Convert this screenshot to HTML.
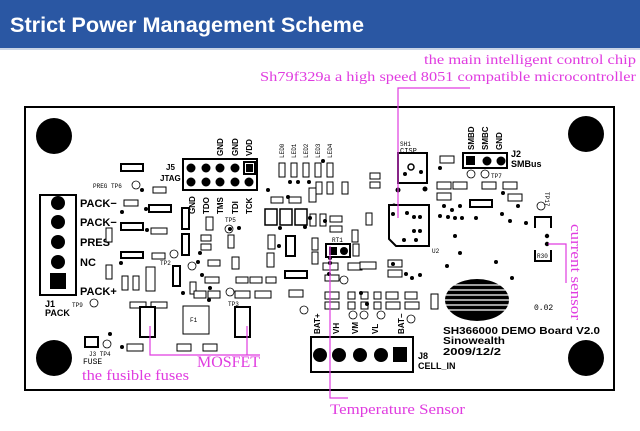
<!DOCTYPE html>
<html><head><meta charset="utf-8"><style>
html,body{margin:0;padding:0;background:#fff;}
svg{display:block;}
.c{fill:#fff;stroke:#000;stroke-width:1;}
.t{font-family:"Liberation Mono",monospace;font-size:6px;fill:#000;}
.b{font-family:"Liberation Sans",sans-serif;font-weight:bold;fill:#000;}
.m{font-family:"Liberation Serif",serif;fill:#e03ce0;}
.ml{stroke:#e03ce0;stroke-width:1.2;fill:none;}
</style></head><body>
<svg width="640" height="431" viewBox="0 0 640 431" xmlns="http://www.w3.org/2000/svg">
<rect x="0" y="0" width="640" height="48" fill="#2a57a3"/>
<rect x="0" y="48" width="640" height="2" fill="#c9d4e6"/>
<text x="10" y="32" font-family="Liberation Sans,sans-serif" font-weight="bold" font-size="21" fill="#fff" textLength="354" lengthAdjust="spacingAndGlyphs">Strict Power Management Scheme</text>

<text class="m" x="424" y="64" font-size="14" textLength="212" lengthAdjust="spacingAndGlyphs">the main intelligent control chip</text>
<text class="m" x="260" y="81" font-size="14" textLength="376" lengthAdjust="spacingAndGlyphs">Sh79f329a a high speed 8051 compatible microcontroller</text>

<!-- board -->
<rect x="25" y="107" width="589" height="283" fill="#fff" stroke="#000" stroke-width="2"/>
<circle cx="54" cy="136" r="18"/><circle cx="54" cy="358" r="18"/>
<circle cx="586" cy="134" r="18"/><circle cx="586" cy="358" r="18"/>

<!-- J1 -->
<rect x="40" y="195" width="36" height="100" fill="#fff" stroke="#000" stroke-width="2"/>
<circle cx="58" cy="203" r="7"/><circle cx="58" cy="222" r="7"/><circle cx="58" cy="242" r="7"/><circle cx="58" cy="262" r="7"/>
<rect x="50" y="273" width="16" height="16"/>
<g class="b" font-size="11">
<text x="80" y="207">PACK−</text><text x="80" y="226">PACK−</text><text x="80" y="246">PRES</text><text x="80" y="266">NC</text><text x="80" y="295">PACK+</text>
<text x="45" y="307" font-size="9">J1</text><text x="45" y="316" font-size="9">PACK</text>
</g>

<!-- J5 -->
<rect x="183" y="159" width="74" height="31" fill="#fff" stroke="#000" stroke-width="2"/>
<g><circle cx="191" cy="168" r="4.5"/><circle cx="206" cy="168" r="4.5"/><circle cx="220" cy="168" r="4.5"/><circle cx="235" cy="168" r="4.5"/>
<rect x="244" y="162" width="11" height="12" fill="#fff" stroke="#000" stroke-width="2"/><rect x="246" y="164" width="7" height="8"/>
<circle cx="191" cy="182" r="4.5"/><circle cx="206" cy="182" r="4.5"/><circle cx="220" cy="182" r="4.5"/><circle cx="235" cy="182" r="4.5"/><circle cx="249" cy="182" r="4.5"/></g>
<g class="b" font-size="8">
<text x="166" y="170">J5</text><text x="160" y="181">JTAG</text>
<text transform="translate(223,156) rotate(-90)">GND</text><text transform="translate(238,156) rotate(-90)">GND</text><text transform="translate(252,156) rotate(-90)">VDD</text>
<text transform="translate(195,214) rotate(-90)">GND</text><text transform="translate(209,214) rotate(-90)">TDO</text><text transform="translate(223,214) rotate(-90)">TMS</text><text transform="translate(238,214) rotate(-90)">TDI</text><text transform="translate(252,214) rotate(-90)">TCK</text>
</g>

<!-- LEDs -->
<g class="c"><rect x="279" y="163" width="6" height="14"/><rect x="291" y="163" width="6" height="14"/><rect x="303" y="163" width="6" height="14"/><rect x="315" y="163" width="6" height="14"/><rect x="327" y="163" width="6" height="14"/></g>
<g class="t" font-size="5"><text transform="translate(284,158) rotate(-90)">LED0</text><text transform="translate(296,158) rotate(-90)">LED1</text><text transform="translate(308,158) rotate(-90)">LED2</text><text transform="translate(320,158) rotate(-90)">LED3</text><text transform="translate(332,158) rotate(-90)">LED4</text></g>

<!-- big pads -->
<g fill="#fff" stroke="#000" stroke-width="1.5"><rect x="265" y="209" width="12" height="16"/><rect x="280" y="209" width="12" height="16"/><rect x="295" y="209" width="12" height="16"/></g>

<!-- small components -->
<g class="c">
<rect x="121" y="164" width="22" height="7" stroke-width="2"/><rect x="153" y="187" width="13" height="6"/><rect x="124" y="200" width="14" height="6"/>
<rect x="149" y="205" width="22" height="7" stroke-width="2"/><rect x="121" y="223" width="22" height="7" stroke-width="2"/><rect x="151" y="228" width="16" height="6"/>
<rect x="121" y="252" width="22" height="6" stroke-width="2"/><rect x="152" y="253" width="13" height="6"/>
<rect x="182" y="208" width="7" height="21" stroke-width="2"/><rect x="182" y="234" width="7" height="21" stroke-width="2"/><rect x="173" y="266" width="7" height="20" stroke-width="2"/>
<rect x="106" y="228" width="6" height="14"/><rect x="106" y="265" width="6" height="14"/><rect x="122" y="276" width="6" height="14"/><rect x="133" y="276" width="6" height="14"/><rect x="146" y="267" width="9" height="24"/>
<rect x="201" y="235" width="10" height="6"/><rect x="201" y="244" width="10" height="6"/><rect x="228" y="235" width="6" height="13"/><rect x="208" y="260" width="12" height="6"/>
<rect x="205" y="277" width="14" height="6"/><rect x="190" y="282" width="6" height="12"/><rect x="194" y="291" width="12" height="7"/><rect x="208" y="291" width="12" height="7"/>
<rect x="236" y="277" width="12" height="6"/><rect x="250" y="277" width="12" height="6"/><rect x="266" y="277" width="10" height="6"/>
<rect x="235" y="291" width="15" height="7"/><rect x="255" y="291" width="16" height="7"/><rect x="232" y="257" width="7" height="12"/>
<rect x="206" y="217" width="7" height="13"/><rect x="268" y="235" width="7" height="14"/><rect x="267" y="253" width="7" height="14"/>
<rect x="271" y="197" width="12" height="6"/><rect x="289" y="197" width="12" height="6"/><rect x="309" y="188" width="7" height="14"/>
<rect x="316" y="182" width="6" height="12"/><rect x="327" y="182" width="6" height="12"/><rect x="342" y="182" width="6" height="12"/>
<rect x="286" y="236" width="9" height="20" stroke-width="2"/><rect x="285" y="271" width="22" height="7" stroke-width="2"/><rect x="289" y="290" width="14" height="7"/>
<rect x="310" y="214" width="6" height="12"/><rect x="320" y="214" width="6" height="12"/><rect x="330" y="216" width="12" height="6"/><rect x="330" y="226" width="12" height="6"/>
<rect x="312" y="238" width="6" height="12"/><rect x="312" y="252" width="6" height="12"/>
<rect x="323" y="263" width="15" height="7"/><rect x="325" y="275" width="14" height="6"/><rect x="348" y="263" width="14" height="7"/>
<rect x="352" y="230" width="6" height="12"/><rect x="353" y="244" width="6" height="12"/><rect x="366" y="213" width="6" height="12"/>
<rect x="370" y="173" width="10" height="6"/><rect x="370" y="182" width="10" height="6"/><rect x="388" y="260" width="14" height="7"/><rect x="388" y="270" width="14" height="7"/>
<rect x="130" y="302" width="16" height="6"/><rect x="151" y="302" width="16" height="6"/>
<rect x="127" y="344" width="16" height="7"/><rect x="177" y="344" width="14" height="7"/><rect x="203" y="344" width="14" height="7"/>
<rect x="85" y="337" width="13" height="10" stroke-width="2"/>
</g>
<g class="c">
<rect x="325" y="292" width="14" height="7"/><rect x="325" y="302" width="14" height="7"/>
<rect x="348" y="292" width="7" height="7"/><rect x="348" y="302" width="7" height="7"/><rect x="361" y="292" width="7" height="7"/><rect x="361" y="302" width="7" height="7"/>
<rect x="374" y="292" width="7" height="7"/><rect x="374" y="302" width="7" height="7"/>
<rect x="386" y="292" width="12" height="7"/><rect x="386" y="302" width="14" height="7"/><rect x="405" y="292" width="12" height="7"/><rect x="405" y="302" width="14" height="7"/>
<rect x="431" y="294" width="7" height="15"/>
<rect x="360" y="262" width="16" height="7"/>
</g>
<!-- Q1 F1 Q3 -->
<rect x="140" y="307" width="15" height="30" fill="#fff" stroke="#000" stroke-width="2"/>
<rect x="183" y="306" width="26" height="28" class="c"/>
<rect x="235" y="307" width="15" height="30" fill="#fff" stroke="#000" stroke-width="2"/>
<text class="t" x="190" y="322" font-size="8">F1</text>

<!-- test points -->
<g fill="#fff" stroke="#000" stroke-width="0.8">
<circle cx="136" cy="185" r="4"/><circle cx="94" cy="303" r="4"/><circle cx="107" cy="344" r="4"/><circle cx="174" cy="254" r="4"/><circle cx="192" cy="266" r="4"/><circle cx="230" cy="292" r="4"/><circle cx="229" cy="229" r="4"/>
<circle cx="304" cy="310" r="4"/><circle cx="353" cy="315" r="4"/><circle cx="364" cy="315" r="4"/><circle cx="381" cy="315" r="4"/><circle cx="411" cy="319" r="4"/><circle cx="344" cy="280" r="4"/>
<circle cx="471" cy="174" r="4"/><circle cx="485" cy="174" r="4"/><circle cx="541" cy="206" r="4"/>
</g>
<g class="t" font-size="6"><text x="93" y="188">PREG TP6</text><text x="72" y="307">TP9</text><text x="89" y="356">J3  TP4</text><text x="83" y="364" font-size="8">FUSE</text>
<text x="228" y="306">TP3</text><text x="225" y="222">TP5</text><text x="160" y="265">TP2</text><text x="473" y="163">TP8</text><text x="491" y="178">TP7</text>
<text x="400" y="146">SH1</text><text x="400" y="153" font-size="7">CISP</text><text x="432" y="253">U2</text><text x="534" y="310" font-size="8">0.02</text></g>

<!-- vias -->
<g fill="#000">
<circle cx="142" cy="190" r="2"/><circle cx="146" cy="209" r="2"/><circle cx="122" cy="212" r="2"/><circle cx="147" cy="230" r="2"/><circle cx="121" cy="263" r="2"/><circle cx="230" cy="229" r="2"/>
<circle cx="200" cy="253" r="2"/><circle cx="198" cy="262" r="2"/><circle cx="202" cy="275" r="2"/><circle cx="183" cy="293" r="2"/><circle cx="209" cy="300" r="2"/><circle cx="210" cy="288" r="2"/>
<circle cx="110" cy="334" r="2"/><circle cx="122" cy="347" r="2"/><circle cx="268" cy="190" r="2"/><circle cx="239" cy="228" r="2"/><circle cx="280" cy="228" r="2"/><circle cx="279" cy="246" r="2"/>
<circle cx="290" cy="182" r="2"/><circle cx="298" cy="182" r="2"/><circle cx="309" cy="182" r="2"/><circle cx="305" cy="227" r="2"/><circle cx="310" cy="218" r="2"/><circle cx="288" cy="197" r="2"/>
<circle cx="328" cy="247" r="2"/><circle cx="323" cy="161" r="2"/><circle cx="330" cy="258" r="2"/><circle cx="330" cy="263" r="2"/>
<circle cx="329" cy="274" r="2"/><circle cx="325" cy="221" r="2"/><circle cx="361" cy="293" r="2"/><circle cx="367" cy="304" r="2"/><circle cx="393" cy="264" r="2"/><circle cx="406" cy="274" r="2"/><circle cx="412" cy="278" r="2"/><circle cx="420" cy="275" r="2"/>
<circle cx="398" cy="190" r="2.5"/><circle cx="394" cy="206" r="2.5"/><circle cx="425" cy="189" r="2.5"/><circle cx="440" cy="198" r="2.5"/><circle cx="444" cy="206" r="2"/><circle cx="452" cy="210" r="2"/><circle cx="460" cy="206" r="2"/>
<circle cx="440" cy="216" r="2"/><circle cx="448" cy="217" r="2"/><circle cx="455" cy="218" r="2"/><circle cx="462" cy="218" r="2"/><circle cx="455" cy="236" r="2"/>
<circle cx="503" cy="193" r="2"/><circle cx="518" cy="206" r="2"/><circle cx="502" cy="214" r="2"/><circle cx="510" cy="221" r="2"/><circle cx="526" cy="223" r="2"/><circle cx="460" cy="253" r="2"/>
<circle cx="447" cy="266" r="2"/><circle cx="496" cy="262" r="2"/><circle cx="512" cy="278" r="2"/><circle cx="476" cy="218" r="2"/><circle cx="440" cy="168" r="2"/><circle cx="395" cy="237" r="2"/><circle cx="407" cy="233" r="2"/><circle cx="420" cy="235" r="2"/>
<circle cx="547" cy="236" r="2.2"/><circle cx="547" cy="244" r="2.2"/>
</g>

<!-- RT1 -->
<rect x="326" y="244" width="24" height="13" fill="#fff" stroke="#000" stroke-width="2"/><rect x="329" y="247" width="8" height="8"/><circle cx="344" cy="251" r="4"/>
<text class="t" x="332" y="242">RT1</text>

<!-- SH1 & U2 -->
<rect x="398" y="153" width="29" height="30" fill="#fff" stroke="#000" stroke-width="2"/>
<circle cx="411" cy="167" r="3" fill="#fff" stroke="#000" stroke-width="1.5"/><circle cx="405" cy="174" r="2"/><circle cx="421" cy="172" r="2"/>
<path d="M389,205 H429 V246 H396 L389,239 Z" fill="#fff" stroke="#000" stroke-width="2"/>
<g fill="#000"><circle cx="393" cy="214" r="2"/><circle cx="407" cy="213" r="2"/><circle cx="414" cy="217" r="2"/><circle cx="420" cy="217" r="2"/><circle cx="414" cy="231" r="2"/><circle cx="420" cy="231" r="2"/><circle cx="404" cy="240" r="2"/><circle cx="416" cy="240" r="2"/></g>

<!-- right components -->
<g class="c">
<rect x="440" y="156" width="14" height="7"/><rect x="437" y="182" width="14" height="7"/><rect x="453" y="182" width="14" height="7"/><rect x="482" y="182" width="14" height="7"/><rect x="503" y="182" width="14" height="7"/>
<rect x="437" y="193" width="14" height="7"/><rect x="508" y="194" width="14" height="7"/><rect x="470" y="200" width="22" height="7" stroke-width="2"/>
</g>
<rect x="463" y="153" width="44" height="15" fill="#fff" stroke="#000" stroke-width="2"/><rect x="466" y="156" width="9" height="9"/><circle cx="487" cy="161" r="4.5"/><circle cx="501" cy="161" r="4.5"/>
<g class="b" font-size="8"><text transform="translate(474,150) rotate(-90)">SMBD</text><text transform="translate(488,150) rotate(-90)">SMBC</text><text transform="translate(502,150) rotate(-90)">GND</text>
<text x="511" y="157" font-size="9">J2</text><text x="511" y="167" font-size="9">SMBus</text></g>
<text class="t" transform="translate(545,192) rotate(90)" font-size="6">TP17</text>
<path d="M535,228 V217 H551 V228" fill="none" stroke="#000" stroke-width="2"/>
<path d="M535,250 V261 H551 V250" fill="none" stroke="#000" stroke-width="2"/>
<text class="t" x="537" y="258" font-size="5">R30</text>

<!-- logo -->
<ellipse cx="477" cy="300" rx="32" ry="21" fill="#000"/>
<g stroke="#fff" stroke-width="1.3"><line x1="445" y1="290" x2="509" y2="290"/><line x1="445" y1="295" x2="509" y2="295"/><line x1="445" y1="300" x2="509" y2="300"/><line x1="445" y1="305" x2="509" y2="305"/><line x1="445" y1="310" x2="509" y2="310"/><line x1="448" y1="285" x2="506" y2="285"/></g>
<g class="b" font-size="10" font-family="Liberation Mono,monospace"><text x="443" y="334" textLength="157" lengthAdjust="spacingAndGlyphs">SH366000 DEMO Board V2.0</text><text x="443" y="344" textLength="62" lengthAdjust="spacingAndGlyphs">Sinowealth</text><text x="443" y="355" textLength="58" lengthAdjust="spacingAndGlyphs">2009/12/2</text></g>

<!-- J8 -->
<rect x="311" y="337" width="102" height="35" fill="#fff" stroke="#000" stroke-width="2"/>
<circle cx="320" cy="355" r="7"/><circle cx="339" cy="355" r="7"/><circle cx="360" cy="355" r="7"/><circle cx="381" cy="355" r="7"/><rect x="393" y="347" width="14" height="15"/>
<g class="b" font-size="8"><text transform="translate(320,334) rotate(-90)">BAT+</text><text transform="translate(339,334) rotate(-90)">VH</text><text transform="translate(358,334) rotate(-90)">VM</text><text transform="translate(378,334) rotate(-90)">VL</text><text transform="translate(404,334) rotate(-90)">BAT−</text>
<text x="418" y="359" font-size="9">J8</text><text x="418" y="369" font-size="9">CELL_IN</text></g>

<!-- magenta callouts -->
<path class="ml" d="M470,88 H398 V218"/>
<path class="ml" d="M150,326 V355 H260 M247,326 V355"/>
<path class="ml" d="M330,246 V398 H348"/>
<path class="ml" d="M548,244 H566 V283"/>
<text class="m" x="197" y="367" font-size="16" textLength="63" lengthAdjust="spacingAndGlyphs">MOSFET</text>
<text class="m" x="82" y="380" font-size="15" textLength="107" lengthAdjust="spacingAndGlyphs">the fusible fuses</text>
<text class="m" x="330" y="414" font-size="15" textLength="135" lengthAdjust="spacingAndGlyphs">Temperature Sensor</text>
<text class="m" transform="translate(571,224) rotate(90)" font-size="15" textLength="96" lengthAdjust="spacingAndGlyphs">current sensor</text>
</svg>
</body></html>
